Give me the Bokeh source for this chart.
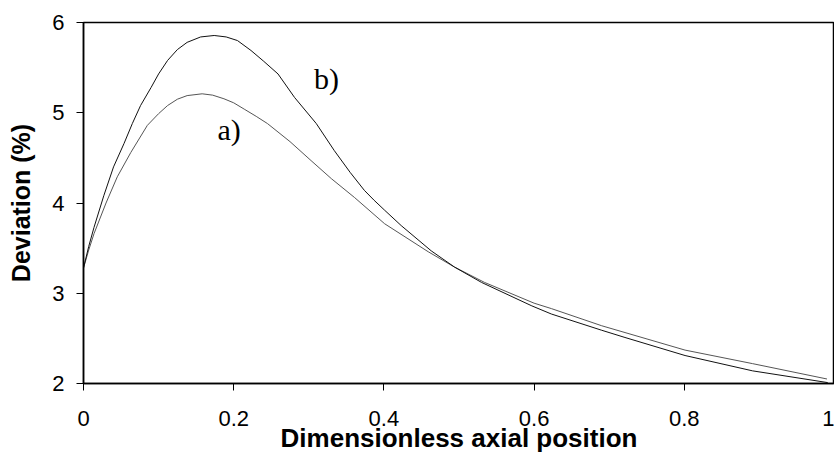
from bokeh.plotting import figure
from bokeh.embed import file_html
from bokeh.resources import INLINE
from bokeh.models import FixedTicker, Label, Range1d

# Curve b) (upper peak)
xb = [0.0, 0.007, 0.014, 0.027, 0.040, 0.054, 0.065, 0.076, 0.090, 0.100,
      0.112, 0.125, 0.138, 0.156, 0.174, 0.190, 0.205, 0.223, 0.240, 0.259,
      0.281, 0.310, 0.334, 0.355, 0.374, 0.387, 0.401, 0.423, 0.463, 0.494,
      0.530, 0.597, 0.623, 0.690, 0.721, 0.801, 0.891, 0.991]
yb = [3.28, 3.52, 3.73, 4.08, 4.40, 4.66, 4.88, 5.08, 5.28, 5.43,
      5.58, 5.70, 5.78, 5.84, 5.856, 5.84, 5.80, 5.69, 5.57, 5.43,
      5.17, 4.88, 4.58, 4.34, 4.14, 4.03, 3.92, 3.75, 3.47, 3.29,
      3.12, 2.86, 2.77, 2.59, 2.51, 2.31, 2.14, 2.01]

# Curve a) (lower peak)
xa = [0.0, 0.007, 0.014, 0.030, 0.045, 0.063, 0.085, 0.100, 0.112, 0.125,
      0.138, 0.158, 0.172, 0.187, 0.200, 0.214, 0.230, 0.245, 0.275, 0.303,
      0.330, 0.361, 0.401, 0.459, 0.494, 0.534, 0.600, 0.623, 0.690, 0.801,
      0.891, 0.990]
ya = [3.28, 3.48, 3.66, 4.00, 4.29, 4.56, 4.86, 4.99, 5.08, 5.15,
      5.19, 5.21, 5.195, 5.155, 5.11, 5.04, 4.96, 4.88, 4.68, 4.47,
      4.27, 4.06, 3.77, 3.46, 3.29, 3.12, 2.89, 2.83, 2.64, 2.37,
      2.22, 2.05]

x_ticks = [0, 0.2, 0.4, 0.6, 0.8, 1]
x_tick_labels = {0: "0", 0.2: "0.2", 0.4: "0.4", 0.6: "0.6", 0.8: "0.8", 1: "1"}
y_ticks = [2, 3, 4, 5, 6]

x_title = "Dimensionless axial position"
y_title = "Deviation (%)"

p = figure(width=834, height=461, output_backend="svg", toolbar_location=None,
           x_range=Range1d(0, 1), y_range=Range1d(2, 6),
           min_border_left=83, min_border_right=0, min_border_top=22,
           min_border_bottom=78)

p.line(xa, ya, line_color="#555555", line_width=1)
p.line(xb, yb, line_color="#111111", line_width=1)

p.add_layout(Label(x=0.307, y=5.38, text="b)", text_font="Liberation Serif",
                   text_font_size="30px", text_color="#000000",
                   text_baseline="alphabetic"))
p.add_layout(Label(x=0.1785, y=4.81, text="a)", text_font="Liberation Serif",
                   text_font_size="30px", text_color="#000000",
                   text_baseline="alphabetic"))

p.xgrid.visible = False
p.ygrid.visible = False
p.outline_line_color = "#000000"
p.outline_line_width = 1.5
p.background_fill_color = "white"
p.border_fill_color = "white"

for ax in (p.xaxis[0], p.yaxis[0]):
    ax.axis_line_color = "#000000"
    ax.axis_line_width = 1.5
    ax.major_tick_line_color = "#000000"
    ax.major_tick_in = 0
    ax.major_tick_out = 7
    ax.minor_tick_line_color = None
    ax.major_label_text_font = "Liberation Sans"
    ax.major_label_text_font_size = "22px"
    ax.major_label_text_color = "#000000"
    ax.axis_label_text_font = "Liberation Sans"
    ax.axis_label_text_font_style = "bold"
    ax.axis_label_text_color = "#000000"

p.xaxis[0].ticker = FixedTicker(ticks=x_ticks)
p.xaxis[0].major_label_overrides = x_tick_labels
p.xaxis[0].axis_label = x_title
p.xaxis[0].axis_label_text_font_size = "26px"
p.xaxis[0].major_label_standoff = 20
p.xaxis[0].axis_label_standoff = -6

p.yaxis[0].ticker = FixedTicker(ticks=y_ticks)
p.yaxis[0].axis_label = y_title
p.yaxis[0].axis_label_text_font_size = "25px"
p.yaxis[0].major_label_standoff = 12
p.yaxis[0].axis_label_standoff = 14

open("out.html", "w").write(file_html(p, INLINE))
